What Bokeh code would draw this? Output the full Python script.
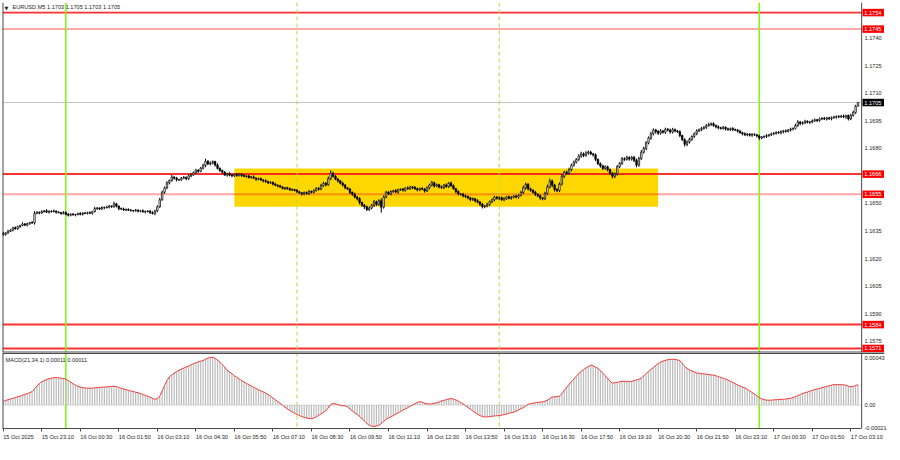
import numpy as np
import pandas as pd
from bokeh.plotting import figure
from bokeh.layouts import column
from bokeh.models import (Span, BoxAnnotation, Label, FixedTicker, PrintfTickFormatter,
                          ColumnDataSource, Range1d)
from bokeh.core.properties import value
from bokeh.embed import file_html
from bokeh.resources import INLINE

# ---------------- data ----------------
symbol_title = "EURUSD,M5  1.1703 1.1705 1.1703 1.1705"
macd_title = "MACD(21,34,1) 0.00011 0.00011"
first_bar_time = "2025-10-15 21:50"
bar_minutes = 5
price_base = 1.1600

first_open_pips = 34.0
# closes, in pips above 1.1600
close_pips = [
    33.0, 34.0, 34.8, 35.5, 36.8, 36.2, 37.4, 38.0, 38.8, 38.2,
    39.0, 39.6, 39.4, 44.6, 45.2, 44.8, 45.6, 46.0, 45.3, 45.8,
    45.6, 45.9, 45.2, 45.0, 44.6, 45.1, 44.0, 43.6, 44.2, 43.8,
    44.0, 44.5, 44.1, 44.8, 44.6, 45.0, 44.7, 45.6, 47.2, 47.5,
    47.0, 47.8, 47.7, 48.0, 48.6, 48.2, 49.8, 48.6, 47.2, 47.0,
    46.5, 46.8, 46.3, 46.2, 46.0, 46.4, 45.8, 46.0, 45.4, 45.6,
    45.9, 45.0, 44.6, 46.0, 48.2, 52.0, 56.1, 58.5, 61.3, 62.5,
    64.4, 63.8, 63.0, 62.9, 63.8, 64.2, 63.5, 65.0, 65.6, 66.8,
    68.1, 67.5, 69.2, 70.7, 73.0, 71.5, 72.0, 72.8, 71.0, 69.1,
    68.0, 67.0, 65.5, 66.2, 65.4, 65.0, 65.8, 65.3, 66.0, 65.2,
    64.8, 65.0, 64.2, 64.5, 63.8, 63.2, 63.5, 62.8, 62.3, 62.0,
    61.2, 61.5, 60.6, 60.0, 59.5, 59.0, 58.2, 58.6, 58.0, 57.4,
    57.6, 57.1, 56.4, 55.8, 55.2, 55.9, 55.4, 56.5, 56.1, 57.0,
    58.2, 57.8, 59.7, 61.0, 60.2, 63.5, 66.5, 64.8, 63.2, 62.3,
    61.0, 60.0, 58.5, 57.8, 56.0, 55.0, 53.5, 52.6, 50.5, 49.0,
    48.2, 46.7, 47.5, 49.0, 50.9, 49.5, 51.5, 48.0, 53.5, 56.1,
    55.2, 56.5, 57.0, 56.2, 57.5, 57.8, 57.2, 58.4, 58.0, 59.0,
    58.7, 58.0, 57.4, 58.2, 57.8, 56.8, 58.5, 60.0, 61.3, 59.5,
    60.2, 59.0, 58.7, 60.0, 59.2, 61.0, 59.7, 58.0, 56.5, 55.2,
    55.0, 54.2, 53.8, 53.0, 52.2, 52.6, 51.5, 50.8, 49.6, 48.2,
    48.6, 49.5, 50.9, 52.0, 53.5, 52.8, 53.2, 52.0, 52.6, 53.6,
    52.8, 53.4, 54.0, 53.5, 54.4, 56.0, 58.5, 60.4, 58.0, 57.2,
    56.1, 55.0, 54.2, 53.0, 52.6, 55.5, 59.0, 62.2, 60.0, 57.5,
    57.0, 60.5, 64.8, 67.0, 66.4, 68.5, 70.9, 72.5, 74.0, 75.8,
    77.0, 76.2, 77.5, 78.0, 77.0, 76.5, 74.0, 71.7, 70.5, 69.1,
    70.0, 68.5, 66.5, 64.8, 66.0, 70.0, 71.8, 74.4, 74.0, 75.0,
    74.2, 75.2, 73.5, 70.9, 74.5, 77.9, 80.0, 83.0, 85.7, 88.0,
    90.0, 89.2, 88.3, 89.5, 88.8, 90.4, 90.0, 89.0, 90.2, 89.5,
    89.1, 87.0, 84.8, 82.2, 83.5, 85.0, 86.5, 88.0, 89.5, 90.2,
    90.9, 91.5, 92.4, 93.0, 93.5, 92.5, 91.8, 91.2, 90.9, 91.5,
    90.6, 90.2, 90.8, 90.3, 90.0, 89.4, 88.6, 88.0, 87.4, 87.8,
    87.2, 87.6, 87.4, 86.8, 85.7, 86.2, 86.5, 87.0, 87.4, 88.0,
    88.2, 88.8, 88.5, 89.1, 89.6, 89.3, 90.0, 90.5, 90.9, 92.5,
    94.4, 93.6, 94.0, 94.8, 94.2, 94.4, 95.0, 95.6, 95.2, 96.1,
    96.4, 96.0, 96.6, 96.2, 96.8, 97.0, 97.4, 97.2, 97.6, 97.3,
    97.9, 96.1, 98.0, 99.6, 103.0, 105.0,
]
# upper / lower shadows beyond the body, in tenths of a pip
wick_up = [
    6,4,8,5,3,7,5,4,9,6,5,3,8,12,6,4,7,5,9,4,
    5,8,3,6,4,7,5,9,4,6,3,5,8,4,6,5,7,3,10,6,
    4,7,5,8,6,4,12,5,3,6,8,4,5,7,3,6,4,5,8,6,
    4,5,7,6,8,10,9,7,8,6,12,5,7,4,6,8,5,7,9,6,
    8,5,7,10,14,6,9,7,5,8,6,4,7,5,9,6,4,8,5,6,
    7,4,6,5,8,4,6,7,5,9,4,6,5,7,3,8,6,4,5,7,
    6,4,8,5,3,7,6,9,5,8,7,6,10,8,7,12,16,8,6,7,
    5,8,6,4,7,5,9,6,8,5,7,6,9,7,10,6,8,12,9,8,
    6,7,5,8,6,4,7,5,9,6,5,8,6,4,7,6,9,8,10,6,
    7,5,8,6,9,7,10,6,5,7,4,8,6,5,7,6,4,8,5,7,
    6,9,7,8,6,5,7,6,8,5,7,6,5,8,6,9,12,10,7,6,
    5,8,6,7,5,9,12,14,8,7,9,10,12,8,9,10,8,9,7,10,
    12,8,10,9,7,6,8,5,7,6,8,6,5,7,9,10,8,9,7,10,
    8,7,6,9,10,12,9,10,8,11,9,7,8,10,6,9,7,8,10,7,
    6,8,5,7,9,8,6,7,9,6,8,7,9,10,6,7,5,8,6,7,
    5,7,6,8,5,6,7,5,8,6,5,7,6,4,7,5,6,8,5,6,
    7,5,6,8,5,7,6,8,5,9,10,6,7,8,5,6,8,7,5,7,
    6,8,5,7,6,8,5,7,6,9,5,6,8,10,7,0,
]
wick_dn = [
    8,5,6,4,7,5,6,8,4,5,7,6,5,9,5,7,4,6,5,8,
    6,5,7,4,8,6,5,7,6,4,8,5,6,7,4,6,5,8,5,7,
    6,5,8,4,7,6,5,8,9,5,6,7,4,6,8,5,7,6,4,8,
    5,7,6,10,8,6,5,8,7,9,6,8,10,7,6,5,8,6,7,5,
    6,8,5,7,9,6,8,7,9,6,8,7,5,9,6,7,5,8,6,7,
    5,8,6,7,5,9,6,5,8,7,6,5,8,6,7,5,6,9,5,6,
    7,5,8,6,9,7,5,8,6,7,5,8,6,7,9,6,8,7,5,9,
    6,8,7,5,9,8,7,9,10,8,12,9,8,7,10,9,8,30,8,7,
    6,8,7,5,9,6,7,8,5,7,9,6,8,7,5,9,6,8,7,9,
    6,8,7,9,6,8,7,5,9,8,7,9,8,7,10,8,9,7,10,9,
    8,7,9,6,8,7,9,6,8,7,5,8,6,7,9,6,8,10,9,8,
    7,9,8,10,9,7,9,8,12,10,9,8,7,9,8,7,9,8,7,8,
    9,10,8,9,7,10,9,8,10,9,8,10,9,12,10,8,7,9,8,7,
    9,8,10,12,9,8,7,9,8,10,9,12,10,8,7,9,8,10,9,8,
    7,9,8,12,10,8,9,7,8,6,8,7,9,6,8,7,9,8,6,7,
    8,6,7,9,6,8,7,9,6,8,7,9,6,8,10,7,6,8,7,6,
    8,7,6,8,9,7,6,8,7,6,8,9,7,8,6,9,7,6,8,7,
    7,6,8,7,9,6,8,7,6,8,12,9,7,6,8,0,
]
# MACD(21,34,1) main line, in units of 0.00001
macd_e5 = [
    3.5, 4.2, 5.0, 5.6, 6.3, 6.9, 7.6, 8.2, 9.0, 9.8, 10.6, 11.5, 12.4,
    15.0, 17.5, 19.8, 21.5, 22.6, 23.5, 24.2, 24.8,
    25.2, 25.3, 25.1, 24.8, 24.4, 24.0, 22.6, 21.2, 19.8, 18.3, 17.2,
    16.6, 16.2, 15.8, 15.6, 15.5, 15.6, 15.9, 16.0, 16.3, 16.5, 16.6, 16.8, 17.0, 17.2, 17.3, 17.0,
    16.3, 15.5, 14.8, 14.2, 13.6, 13.0, 12.5, 11.8, 11.4, 10.6, 9.8, 9.0, 8.2, 7.2, 6.2, 5.4,
    6.0, 8.3, 13.0, 18.0, 22.5, 26.0, 27.8, 29.5, 30.8, 32.0, 33.2, 34.0,
    35.0, 36.0, 37.0, 38.0, 39.0, 39.8, 40.5, 41.0, 42.2, 43.2, 43.8, 44.0,
    43.0, 41.5, 39.5, 37.2, 35.0, 32.0, 30.5, 28.8, 27.0, 25.5, 24.0, 22.6, 21.2, 20.0, 18.8,
    17.6, 16.4, 15.2, 14.2, 13.2, 12.1, 11.0, 9.8, 8.2, 6.6, 5.0, 3.4, 1.6, 0.0, -1.8,
    -3.5, -5.0, -6.3, -7.5, -8.6, -9.6, -10.5, -11.2, -11.8, -12.3, -12.5,
    -12.0, -10.8, -9.4, -8.0, -6.8, -5.0, -2.6, 0.5, 1.5, 1.2, 0.4, -0.2, -0.5, -0.6,
    -1.8, -3.5, -5.4, -7.2, -8.6, -10.5, -12.5, -14.6, -16.8, -18.6, -19.4,
    -19.6, -19.2, -18.5, -17.0, -15.0, -13.0, -11.8, -10.7,
    -9.6, -8.4, -7.2, -6.0, -4.5, -3.6, -2.4, -1.0, 0.2, 1.4, 2.4, 3.3,
    2.6, 1.8, 1.2, 0.9, 1.2, 1.6, 2.2, 2.8, 3.9, 4.4, 5.0, 5.6, 6.0,
    5.6, 4.8, 3.6, 2.4, 1.0, -0.6, -2.2, -3.8, -5.4, -7.0, -8.4, -9.6, -10.5, -11.0,
    -10.8, -10.5, -10.2, -10.0, -9.8, -9.6, -9.2, -8.8, -8.2, -7.6, -7.0, -6.5,
    -5.6, -4.5, -3.4, -2.2, -1.0, 0.9, 1.4, 1.8, 2.2, 2.6, 2.8, 3.0,
    3.6, 4.6, 6.0, 7.4, 7.6, 7.9, 8.3, 10.5, 13.5, 16.2, 19.0,
    21.8, 24.0, 26.5, 29.0, 31.0, 32.8, 34.2, 35.5, 36.7, 36.2, 35.0, 33.8,
    31.8, 29.5, 27.0, 24.5, 22.0, 20.3, 20.6, 21.0, 21.5, 21.8, 22.0, 21.8,
    21.6, 21.8, 22.5, 23.2, 23.8, 24.8, 26.8, 29.0, 31.0, 32.8, 34.6, 36.5,
    38.2, 39.5, 40.5, 41.2, 41.8, 42.0, 42.2, 42.0, 41.6, 41.0, 38.5, 35.5,
    33.8, 32.5, 31.5, 30.5, 29.6, 29.3, 29.0, 28.7, 28.4, 28.1, 27.8, 27.6,
    27.0, 26.2, 25.4, 24.8, 24.0, 23.0, 22.0, 20.8, 19.6, 18.6, 17.5, 16.5,
    15.9, 14.6, 13.2, 11.6, 10.2, 8.6, 6.9, 5.8, 5.0, 4.6, 4.5, 4.6,
    4.8, 5.0, 5.1, 5.3, 5.4, 5.6, 5.9, 6.3, 6.9, 7.8, 8.7, 9.8,
    10.7, 11.4, 12.0, 12.8, 13.6, 14.3, 14.8, 15.4, 16.0, 16.6, 17.2, 17.8,
    18.4, 18.8, 18.9, 18.8, 18.8, 18.8, 18.2, 17.4, 16.8, 17.2, 18.0, 18.8,
]
signal_period = 1

levels = [1.1754, 1.1745, 1.1666, 1.1655, 1.1584, 1.1571]
level_strong = [True, False, True, False, True, True]
last_price = 1.1705
zone_start, zone_end = "2025-10-16 05:50", "2025-10-16 20:30"
zone_low, zone_high = 1.16482, 1.16691
day_lines = ["2025-10-16 00:00", "2025-10-17 00:00"]
session_lines = ["2025-10-16 08:00", "2025-10-16 15:00"]

price_ticks = [1.1575, 1.1590, 1.1605, 1.1620, 1.1635, 1.1650, 1.1665,
               1.1680, 1.1695, 1.1710, 1.1725, 1.1740]
macd_ticks = [-0.00021, 0.0, 0.00043]
macd_tick_labels = ["-0.00021", "0.00", "0.00043"]
time_tick_labels = ["15 Oct 2025", "15 Oct 23:10", "16 Oct 00:30", "16 Oct 01:50",
                    "16 Oct 03:10", "16 Oct 04:30", "16 Oct 05:50", "16 Oct 07:10",
                    "16 Oct 08:30", "16 Oct 09:50", "16 Oct 11:10", "16 Oct 12:30",
                    "16 Oct 13:50", "16 Oct 15:10", "16 Oct 16:30", "16 Oct 17:50",
                    "16 Oct 19:10", "16 Oct 20:30", "16 Oct 21:50", "16 Oct 23:10",
                    "17 Oct 00:30", "17 Oct 01:50", "17 Oct 03:10"]
time_tick_times = ["2025-10-15 21:50"] + [
    pd.Timestamp("2025 " + s).strftime("%Y-%m-%d %H:%M") for s in time_tick_labels[1:]]

# ---------------- derived ----------------
n = len(close_pips)

def fit(lst, fill):
    lst = list(lst)[:n]
    return np.array(lst + [fill] * (n - len(lst)), dtype=float)

t0 = pd.Timestamp(first_bar_time)
def bar_of(ts):
    return (pd.Timestamp(ts) - t0) / pd.Timedelta(minutes=bar_minutes)

idx = np.arange(n)
closes = price_base + np.array(close_pips) / 1e4
opens = np.concatenate([[price_base + first_open_pips / 1e4], closes[:-1]])
highs = np.maximum(opens, closes) + fit(wick_up, 5) / 1e5
lows = np.minimum(opens, closes) - fit(wick_dn, 5) / 1e5
bull = closes >= opens
macd = fit(macd_e5, 0.0) / 1e5
signal = pd.Series(macd).rolling(signal_period, min_periods=1).mean().values

src = ColumnDataSource(dict(
    x=idx, o=opens, c=closes, h=highs, l=lows,
    top=np.maximum(opens, closes), bot=np.minimum(opens, closes),
    fill=np.where(bull, "white", "black"), macd=macd, sig=signal))

# ---------------- layout constants ----------------
FONT = "Liberation Sans"
FS = "5.6px"
TXT = "#1e1e1e"
FRAME_W = 882
AXIS_C = "#4a4a4a"
RED = "#ff1a1a"
GREEN = "#7cfc00"
SESSION = "#a6df4a"
X0, X_END = -0.3, 366.0          # visible bar span incl. price-scale strip
SCALE_X = 356.5                  # where the price scale strip starts
LABEL_STANDOFF = -20

xr = Range1d(X0, X_END)
P_LO, P_HI = 1.15688, 1.17595
M_LO, M_HI = -0.000215, 0.000484

def style_right_axis(ax, ticks):
    ax.ticker = FixedTicker(ticks=ticks, minor_ticks=[])
    ax.major_label_text_font = FONT
    ax.major_label_text_font_size = FS
    ax.major_label_text_color = TXT
    ax.major_tick_out = 0
    ax.major_tick_in = 0
    ax.minor_tick_out = 0
    ax.major_label_standoff = LABEL_STANDOFF
    ax.axis_line_color = None

def frame_edges(fig):
    # white strip for the scale, its dividing line and the chart's left border
    fig.add_layout(BoxAnnotation(left=SCALE_X, fill_color="white", fill_alpha=1,
                                 line_color=None, level="glyph"))
    fig.add_layout(Span(location=SCALE_X, dimension="height", line_color=AXIS_C,
                        line_width=1, level="guide"))
    fig.add_layout(Span(location=X0, dimension="height", line_color=AXIS_C,
                        line_width=2, level="guide"))

def vlines(fig):
    for d in day_lines:
        fig.add_layout(Span(location=bar_of(d), dimension="height", line_color=GREEN,
                            line_width=1.5, level="underlay"))
    for s in session_lines:
        fig.add_layout(Span(location=bar_of(s), dimension="height", line_color=SESSION,
                            line_width=1, line_dash="4 3", level="underlay"))

# ---------------- price panel ----------------
p = figure(frame_width=FRAME_W, frame_height=350, x_range=xr,
           y_range=Range1d(P_LO, P_HI), title=None,
           output_backend="svg", toolbar_location=None,
           x_axis_location=None, y_axis_location="right",
           min_border_left=2, min_border_right=0, min_border_top=2, min_border_bottom=0,
           background_fill_color="white", border_fill_color="white",
           outline_line_color=None)
p.xgrid.visible = False
p.ygrid.visible = False
style_right_axis(p.yaxis[0], price_ticks)
p.yaxis[0].formatter = PrintfTickFormatter(format="%.4f")

p.add_layout(BoxAnnotation(left=bar_of(zone_start), right=bar_of(zone_end),
                           bottom=zone_low, top=zone_high, fill_color="#ffd700",
                           fill_alpha=1.0, line_color=None, level="underlay"))
p.add_layout(Span(location=last_price, dimension="width", line_color="#c8c8c8",
                  line_width=1, level="underlay"))
for lv, strong in zip(levels, level_strong):
    p.add_layout(Span(location=lv, dimension="width", line_color=RED,
                      line_alpha=0.9 if strong else 0.38,
                      line_width=1.6 if lv > 1.175 else 2, level="underlay"))
vlines(p)

p.segment(x0="x", y0="l", x1="x", y1="h", source=src, line_color="black", line_width=1)
p.vbar(x="x", top="top", bottom="bot", width=0.62, source=src,
       fill_color="fill", line_color="black", line_width=0.7)

frame_edges(p)
p.add_layout(Span(location=P_LO, dimension="width", line_color=AXIS_C,
                  line_width=2, level="guide"))

# price tags on the scale: levels in red, current price in black
tag_src = ColumnDataSource(dict(
    y=levels + [last_price],
    t=[f"{v:.4f}" for v in levels + [last_price]],
    bg=["#ff0000"] * len(levels) + ["#000000"]))
tag_w = X_END - SCALE_X - 0.35
p.rect(x=SCALE_X + 0.35 + tag_w / 2, y="y", width=tag_w, height=7.5, height_units="screen",
       source=tag_src, fill_color="bg", line_color=None, level="overlay")
p.text(x=SCALE_X + 1.1, y="y", text="t", source=tag_src, text_font=value(FONT),
       text_font_size=value(FS), text_color="white", text_baseline="middle",
       text_align="left", level="overlay")

p.add_layout(Label(x=2, y=348, x_units="screen", y_units="screen", text="▼",
                   text_font="DejaVu Sans", text_font_size="5px", text_color=TXT,
                   text_baseline="top"))
p.add_layout(Label(x=10, y=348.5, x_units="screen", y_units="screen", text=symbol_title,
                   text_font=FONT, text_font_size=FS, text_color=TXT,
                   text_baseline="top"))

# ---------------- MACD panel ----------------
m = figure(frame_width=FRAME_W, frame_height=76, x_range=xr,
           y_range=Range1d(M_LO, M_HI), title=None,
           output_backend="svg", toolbar_location=None,
           x_axis_location="below", y_axis_location="right",
           min_border_left=2, min_border_right=0, min_border_top=0, min_border_bottom=0,
           background_fill_color="white", border_fill_color="white",
           outline_line_color=None)
m.xgrid.visible = False
m.ygrid.visible = False
style_right_axis(m.yaxis[0], macd_ticks)
m.yaxis[0].major_label_overrides = dict(zip(macd_ticks, macd_tick_labels))

tick_pos = [int(round(bar_of(t))) for t in time_tick_times]
mx = m.xaxis[0]
mx.ticker = FixedTicker(ticks=tick_pos, minor_ticks=[])
mx.major_label_overrides = dict(zip(tick_pos, time_tick_labels))
mx.major_label_orientation = -0.0001
mx.major_label_text_font = FONT
mx.major_label_text_font_size = FS
mx.major_label_text_color = TXT
mx.major_tick_out = 3
mx.major_tick_in = 0
mx.minor_tick_out = 0
mx.major_label_standoff = 5
mx.axis_line_color = AXIS_C
mx.major_tick_line_color = AXIS_C
mx.bounds = (X0, SCALE_X)

m.add_layout(Span(location=0, dimension="width", line_color="#b0b0b0",
                  line_width=1, line_dash="1 1", level="underlay"))
vlines(m)
m.vbar(x="x", top="macd", bottom=0, width=0.5, source=src,
       fill_color="#bcbcbc", line_color=None)
m.line(x="x", y="sig", source=src, line_color="#f03c3c", line_width=1)
frame_edges(m)
m.add_layout(Span(location=M_HI, dimension="width", line_color=AXIS_C,
                  line_width=3, level="guide"))

m.add_layout(Label(x=3, y=72, x_units="screen", y_units="screen", text=macd_title,
                   text_font=FONT, text_font_size=FS, text_color=TXT,
                   text_baseline="top"))

layout = column(p, m, spacing=0)
open("out.html", "w").write(file_html(layout, INLINE))
